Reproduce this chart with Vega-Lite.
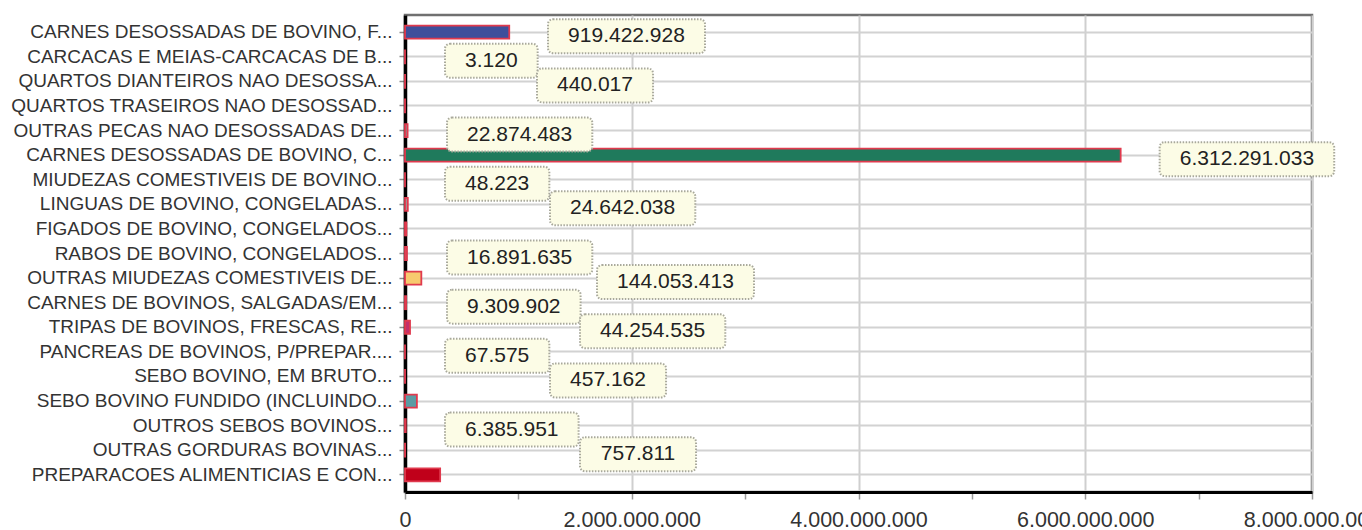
{
  "$schema": "https://vega.github.io/schema/vega-lite/v6.json",
  "width": 907,
  "height": 477,
  "autosize": {"type": "none"},
  "padding": {"left": 405, "top": 15, "right": 50, "bottom": 38},
  "background": "white",
  "config": {
    "font": "Liberation Sans",
    "view": {"stroke": "#707070", "strokeWidth": 2.5}
  },
  "data": {
    "values": [
      {"produto": "CARNES DESOSSADAS DE BOVINO, F...", "valor": 919422928},
      {"produto": "CARCACAS E MEIAS-CARCACAS DE B...", "valor": 3120},
      {"produto": "QUARTOS DIANTEIROS NAO DESOSSA...", "valor": 440017},
      {"produto": "QUARTOS TRASEIROS NAO DESOSSAD...", "valor": 200000},
      {"produto": "OUTRAS PECAS NAO DESOSSADAS DE...", "valor": 22874483},
      {"produto": "CARNES DESOSSADAS DE BOVINO, C...", "valor": 6312291033},
      {"produto": "MIUDEZAS COMESTIVEIS DE BOVINO...", "valor": 48223},
      {"produto": "LINGUAS DE BOVINO, CONGELADAS...", "valor": 24642038},
      {"produto": "FIGADOS DE BOVINO, CONGELADOS...", "valor": 12000000},
      {"produto": "RABOS DE BOVINO, CONGELADOS...", "valor": 16891635},
      {"produto": "OUTRAS MIUDEZAS COMESTIVEIS DE...", "valor": 144053413},
      {"produto": "CARNES DE BOVINOS, SALGADAS/EM...", "valor": 9309902},
      {"produto": "TRIPAS DE BOVINOS, FRESCAS, RE...", "valor": 44254535},
      {"produto": "PANCREAS DE BOVINOS, P/PREPAR....", "valor": 67575},
      {"produto": "SEBO BOVINO, EM BRUTO...", "valor": 457162},
      {"produto": "SEBO BOVINO FUNDIDO (INCLUINDO...", "valor": 105000000},
      {"produto": "OUTROS SEBOS BOVINOS...", "valor": 6385951},
      {"produto": "OUTRAS GORDURAS BOVINAS...", "valor": 757811},
      {"produto": "PREPARACOES ALIMENTICIAS E CON...", "valor": 310000000}
    ]
  },
  "encoding": {
    "y": {
      "field": "produto",
      "type": "nominal",
      "sort": null,
      "scale": {"paddingInner": 0, "paddingOuter": 0.2},
      "axis": {
        "title": null,
        "labelFontSize": 19,
        "labelColor": "#333333",
        "labelPadding": 7,
        "labelLimit": 0,
        "domainColor": "#000000",
        "domainWidth": 3.5,
        "tickColor": "#8a8a8a",
        "tickSize": 6,
        "tickWidth": 1.5,
        "grid": true,
        "gridColor": "#d2d2d2",
        "gridWidth": 2,
        "bandPosition": 0.5
      }
    }
  },
  "layer": [
    {
      "mark": {"type": "bar", "size": 13, "stroke": "#e03a4e", "strokeWidth": 1.8},
      "encoding": {
        "x": {
          "field": "valor",
          "type": "quantitative",
          "scale": {"domain": [0, 8000000000], "nice": false, "zero": true},
          "axis": {
            "title": null,
            "values": [0, 1000000000, 2000000000, 3000000000, 4000000000, 5000000000, 6000000000, 7000000000, 8000000000],
            "labelExpr": "datum.value % 2000000000 == 0 ? replace(format(datum.value, ','), regexp(',', 'g'), '.') : ''",
            "labelFontSize": 21.5,
            "labelColor": "#333333",
            "labelFlush": false,
            "labelOverlap": false,
            "labelPadding": 10,
            "domainColor": "#000000",
            "domainWidth": 3,
            "tickColor": "#999999",
            "tickWidth": 1.5,
            "tickSize": 7,
            "grid": true,
            "gridWidth": 2,
            "gridColor": {"condition": {"test": "datum.value % 2000000000 == 0", "value": "#cfcfcf"}, "value": "rgba(255,255,255,0)"}
          }
        },
        "color": {
          "field": "produto",
          "type": "nominal",
          "legend": null,
          "scale": {
            "domain": [
              "CARNES DESOSSADAS DE BOVINO, F...", "CARCACAS E MEIAS-CARCACAS DE B...", "QUARTOS DIANTEIROS NAO DESOSSA...",
              "QUARTOS TRASEIROS NAO DESOSSAD...", "OUTRAS PECAS NAO DESOSSADAS DE...", "CARNES DESOSSADAS DE BOVINO, C...",
              "MIUDEZAS COMESTIVEIS DE BOVINO...", "LINGUAS DE BOVINO, CONGELADAS...", "FIGADOS DE BOVINO, CONGELADOS...",
              "RABOS DE BOVINO, CONGELADOS...", "OUTRAS MIUDEZAS COMESTIVEIS DE...", "CARNES DE BOVINOS, SALGADAS/EM...",
              "TRIPAS DE BOVINOS, FRESCAS, RE...", "PANCREAS DE BOVINOS, P/PREPAR....", "SEBO BOVINO, EM BRUTO...",
              "SEBO BOVINO FUNDIDO (INCLUINDO...", "OUTROS SEBOS BOVINOS...", "OUTRAS GORDURAS BOVINAS...",
              "PREPARACOES ALIMENTICIAS E CON..."
            ],
            "range": [
              "#3e4f9b", "#9a9a9a", "#8e8e8e", "#7a7a7a", "#8a8a8a", "#1f7a5c", "#999999", "#9a9a9a", "#8a8a8a",
              "#c98a9a", "#f7c96e", "#9a7a8a", "#c2306a", "#8a8a8a", "#9a9a9a", "#5b9ba3", "#9a9a9a", "#9a9a9a", "#c0001a"
            ]
          }
        }
      }
    },
    {
      "transform": [
        {"window": [{"op": "row_number", "as": "i"}]},
        {"filter": "indexof([4, 9, 16, 19], datum.i) < 0"},
        {"calculate": "replace(format(datum.valor, ','), regexp(',', 'g'), '.')", "as": "lab"},
        {"calculate": "length(replace(datum.lab, regexp('[.]', 'g'), ''))", "as": "nd"},
        {"calculate": "length(datum.lab) - datum.nd", "as": "ndot"},
        {"calculate": "datum.nd * 11.7 + datum.ndot * 5.85 + 40", "as": "bw"},
        {"calculate": "[143, 40, 132, 0, 42, 39, 40, 145, 0, 42, 192, 42, 175, 40, 145, 0, 40, 175, 0][datum.i - 1]", "as": "off"},
        {"calculate": "datum.i == 6 ? datum.valor : 0", "as": "anc"}
      ],
      "layer": [
        {
          "mark": {
            "type": "bar",
            "size": 34,
            "yOffset": 4,
            "fill": "#fcfce6",
            "stroke": "#a9a99c",
            "strokeWidth": 2,
            "strokeDash": [1.5, 1.5],
            "cornerRadius": 5,
            "xOffset": {"expr": "datum.off"},
            "x2Offset": {"expr": "datum.off + datum.bw"}
          },
          "encoding": {
            "x": {"field": "anc", "type": "quantitative", "title": null},
            "x2": {"field": "anc"}
          }
        },
        {
          "mark": {
            "type": "text",
            "align": "center",
            "baseline": "middle",
            "fontSize": 21,
            "color": "#222222",
            "yOffset": 4,
            "xOffset": {"expr": "datum.off + datum.bw / 2"}
          },
          "encoding": {
            "x": {"field": "anc", "type": "quantitative", "title": null},
            "text": {"field": "lab"}
          }
        }
      ]
    }
  ]
}
